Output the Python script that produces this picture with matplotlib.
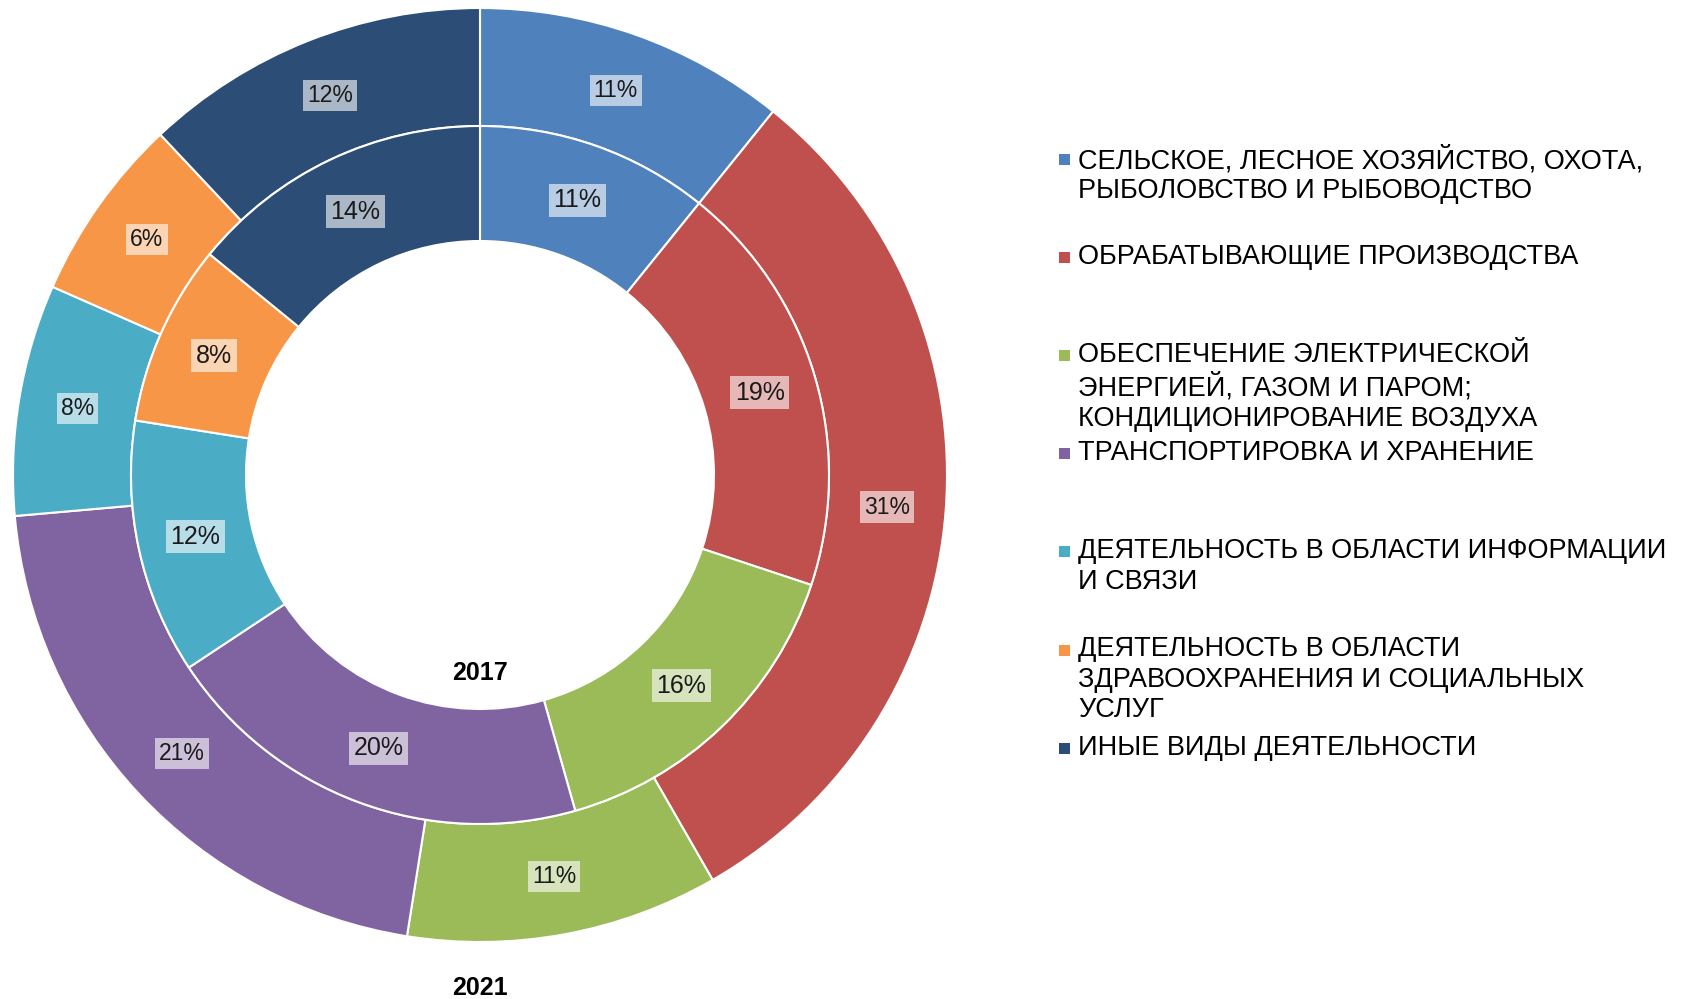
import matplotlib
matplotlib.use("Agg")
import matplotlib.pyplot as plt

categories = [
    "СЕЛЬСКОЕ, ЛЕСНОЕ ХОЗЯЙСТВО, ОХОТА,\nРЫБОЛОВСТВО И РЫБОВОДСТВО",
    "ОБРАБАТЫВАЮЩИЕ ПРОИЗВОДСТВА",
    "ОБЕСПЕЧЕНИЕ ЭЛЕКТРИЧЕСКОЙ\nЭНЕРГИЕЙ, ГАЗОМ И ПАРОМ;\nКОНДИЦИОНИРОВАНИЕ ВОЗДУХА",
    "ТРАНСПОРТИРОВКА И ХРАНЕНИЕ",
    "ДЕЯТЕЛЬНОСТЬ В ОБЛАСТИ ИНФОРМАЦИИ\nИ СВЯЗИ",
    "ДЕЯТЕЛЬНОСТЬ В ОБЛАСТИ\nЗДРАВООХРАНЕНИЯ И СОЦИАЛЬНЫХ\nУСЛУГ",
    "ИНЫЕ ВИДЫ ДЕЯТЕЛЬНОСТИ",
]
# shares in percent (labels show rounded values)
values_2021 = [10.8, 30.9, 10.8, 21.1, 8.0, 6.4, 12.0]
values_2017 = [10.8, 19.3, 15.5, 20.1, 11.8, 8.4, 14.1]
colors = ["#4F81BD", "#C0504D", "#9BBB59", "#8064A2", "#4BACC6", "#F79646", "#2C4D75"]
year_outer = "2021"
year_inner = "2017"

plt.rcParams["font.family"] = ["Liberation Sans", "DejaVu Sans"]

W, H = 1683, 999
fig = plt.figure(figsize=(W / 100, H / 100), dpi=100)
fig.patch.set_facecolor("white")

cx, cy, R = 480, 475, 467
ax = fig.add_axes([(cx - R) / W, (H - cy - R) / H, 2 * R / W, 2 * R / H])

r_out = 1.0
r_mid = 349 / 467
r_in = 234 / 467

box = dict(boxstyle="square,pad=0.18", facecolor="white", alpha=0.6, edgecolor="none")

ax.pie(values_2021, radius=r_out, colors=colors, startangle=90, counterclock=False,
       wedgeprops=dict(width=r_out - r_mid, edgecolor="white", linewidth=1.5),
       labels=[f"{round(v)}%" for v in values_2021], labeldistance=(r_out + r_mid) / 2 / r_out,
       textprops=dict(fontsize=16.5, color="#1a1a1a", ha="center", va="center", bbox=box))
ax.pie(values_2017, radius=r_mid, colors=colors, startangle=90, counterclock=False,
       wedgeprops=dict(width=r_mid - r_in, edgecolor="white", linewidth=1.5),
       labels=[f"{round(v)}%" for v in values_2017], labeldistance=(r_mid + r_in) / 2 / r_mid,
       textprops=dict(fontsize=18, color="#1a1a1a", ha="center", va="center", bbox=box))
ax.set_xlim(-1, 1)
ax.set_ylim(-1, 1)
ax.set_aspect("equal")
ax.axis("off")

fig.text(cx / W, 1 - 673 / H, year_inner, ha="center", va="center",
         fontsize=18, fontweight="bold", color="black")
fig.text(cx / W, 1 - 988 / H, year_outer, ha="center", va="center",
         fontsize=18, fontweight="bold", color="black")

# legend
y0, step = 159, 98.2
for i, (lab, col) in enumerate(zip(categories, colors)):
    y = y0 + i * step
    fig.patches.append(plt.Rectangle(((1064 - 5.5) / W, 1 - (y + 5.5) / H), 11 / W, 11 / H,
                                     transform=fig.transFigure, facecolor=col, edgecolor="none"))
    fig.text(1078 / W, 1 - (y - 13.5) / H, lab, ha="left", va="top", fontsize=19.5,
             color="black", linespacing=1.22)

fig.savefig("out.png", dpi=100, facecolor="white")
